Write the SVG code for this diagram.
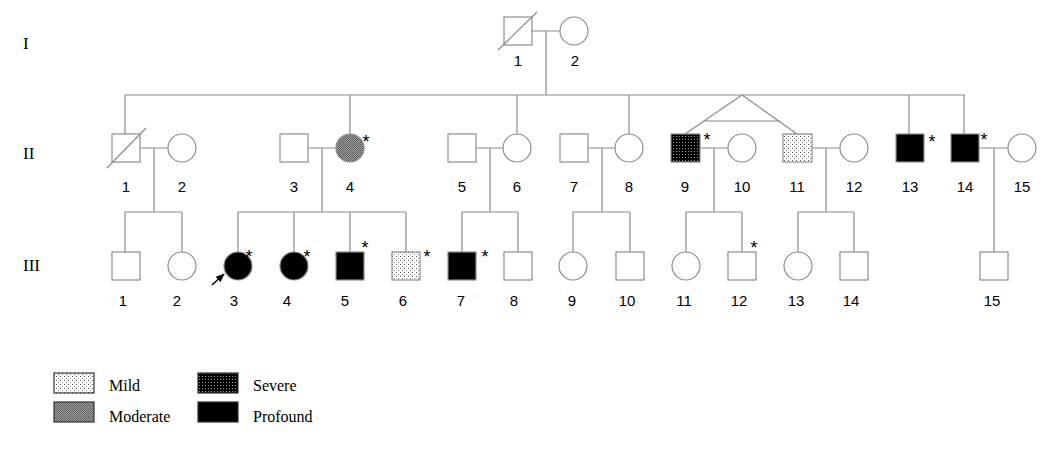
<svg xmlns="http://www.w3.org/2000/svg" width="1050" height="457" viewBox="0 0 1050 457">
<defs>
<pattern id="pMild" width="4" height="4" patternUnits="userSpaceOnUse">
<rect width="4" height="4" fill="#fff"/><rect x="0" y="0" width="1" height="1" fill="#555"/><rect x="2" y="2" width="1" height="1" fill="#888"/>
</pattern>
<pattern id="pMod" width="2" height="2" patternUnits="userSpaceOnUse">
<rect width="2" height="2" fill="#9a9a9a"/><rect x="0" y="0" width="1" height="1" fill="#5a5a5a"/><rect x="1" y="1" width="1" height="1" fill="#6a6a6a"/>
</pattern>
<pattern id="pSev" width="3" height="3" patternUnits="userSpaceOnUse">
<rect width="3" height="3" fill="#000"/><rect x="1" y="1" width="1" height="1" fill="#999"/>
</pattern>
<marker id="arr" viewBox="0 0 10 10" refX="9" refY="5" markerWidth="6" markerHeight="6" orient="auto">
<path d="M0,1 L10,5 L0,9 z" fill="#000"/>
</marker>
</defs>
<style>
.ln{stroke:#8c8c8c;stroke-width:1.2;fill:none}
.sh{stroke:#8c8c8c;stroke-width:1.2;fill:#fff}
.lab{font-family:"Liberation Sans",Arial,sans-serif;font-size:15px;fill:#000;text-anchor:middle}
.ast{font-family:"Liberation Sans",Arial,sans-serif;font-size:18px;fill:#000;text-anchor:middle}
.gen{font-family:"Liberation Serif","Times New Roman",serif;font-size:17px;fill:#000}
.leg{font-family:"Liberation Serif","Times New Roman",serif;font-size:16px;fill:#000}
.mild{fill:url(#pMild)}
.mod{fill:url(#pMod)}
.sev{fill:url(#pSev)}
.pro{fill:#000}
</style>
<rect width="1050" height="457" fill="#fff"/>

<g id="generations">
<text class="gen" x="23" y="49">I</text>
<text class="gen" x="23" y="159">II</text>
<text class="gen" x="23" y="271">III</text>
</g>

<g id="connectors">
<path class="ln" d="M532,31 H560 M546,31 V95"/>
<path class="ln" d="M125,95 H965"/>
<path class="ln" d="M125,95 V134 M350,95 V134 M517,95 V134 M629,95 V134 M909,95 V134 M964,95 V134"/>
<path class="ln" d="M742,95 L685,134 M742,95 L797,134 M704,121 H780"/>
<path class="ln" d="M140,148 H168 M154,148 V212 M125,212 H182 M125,212 V252 M182,212 V252"/>
<path class="ln" d="M308,148 H336 M322,148 V212 M238,212 H406 M238,212 V252 M294,212 V252 M350,212 V252 M406,212 V252"/>
<path class="ln" d="M476,148 H503 M490,148 V212 M462,212 H518 M462,212 V252 M518,212 V252"/>
<path class="ln" d="M588,148 H615 M602,148 V212 M573,212 H630 M573,212 V252 M630,212 V252"/>
<path class="ln" d="M700,148 H728 M714,148 V212 M686,212 H742 M686,212 V252 M742,212 V252"/>
<path class="ln" d="M812,148 H840 M826,148 V212 M798,212 H854 M798,212 V252 M854,212 V252"/>
<path class="ln" d="M979,148 H1008 M994,148 V252"/>
<line x1="212" y1="285" x2="224" y2="274" stroke="#000" stroke-width="1.5" marker-end="url(#arr)"/>
</g>

<g id="I-1"><rect class="sh" x="504" y="17" width="28" height="28"/><line class="ln" x1="498" y1="50" x2="537" y2="12"/><text class="lab" x="518" y="66">1</text></g>
<g id="I-2"><circle class="sh" cx="574" cy="31" r="14"/><text class="lab" x="575" y="66">2</text></g>

<g id="II-1"><rect class="sh" x="112" y="134" width="28" height="28"/><line class="ln" x1="107" y1="168" x2="146" y2="128"/><text class="lab" x="126" y="192">1</text></g>
<g id="II-2"><circle class="sh" cx="182" cy="148" r="14"/><text class="lab" x="182" y="192">2</text></g>
<g id="II-3"><rect class="sh" x="280" y="134" width="28" height="28"/><text class="lab" x="294" y="192">3</text></g>
<g id="II-4"><circle class="sh mod" cx="350" cy="148" r="14"/><text class="ast" x="366" y="148">*</text><text class="lab" x="350" y="192">4</text></g>
<g id="II-5"><rect class="sh" x="448" y="134" width="28" height="28"/><text class="lab" x="462" y="192">5</text></g>
<g id="II-6"><circle class="sh" cx="517" cy="148" r="14"/><text class="lab" x="517" y="192">6</text></g>
<g id="II-7"><rect class="sh" x="560" y="134" width="28" height="28"/><text class="lab" x="574" y="192">7</text></g>
<g id="II-8"><circle class="sh" cx="629" cy="148" r="14"/><text class="lab" x="629" y="192">8</text></g>
<g id="II-9"><rect class="sh sev" x="671" y="134" width="29" height="28"/><text class="ast" x="707" y="146">*</text><text class="lab" x="685" y="192">9</text></g>
<g id="II-10"><circle class="sh" cx="742" cy="148" r="14"/><text class="lab" x="742" y="192">10</text></g>
<g id="II-11"><rect class="sh mild" x="783" y="134" width="29" height="28"/><text class="lab" x="797" y="192">11</text></g>
<g id="II-12"><circle class="sh" cx="854" cy="148" r="14"/><text class="lab" x="854" y="192">12</text></g>
<g id="II-13"><rect class="sh pro" x="896" y="134" width="28" height="28"/><text class="ast" x="932" y="148">*</text><text class="lab" x="910" y="192">13</text></g>
<g id="II-14"><rect class="sh pro" x="951" y="134" width="28" height="28"/><text class="ast" x="984" y="146">*</text><text class="lab" x="965" y="192">14</text></g>
<g id="II-15"><circle class="sh" cx="1022" cy="148" r="14"/><text class="lab" x="1022" y="192">15</text></g>

<g id="III-1"><rect class="sh" x="112" y="252" width="28" height="28"/><text class="lab" x="123" y="306">1</text></g>
<g id="III-2"><circle class="sh" cx="182" cy="266" r="14"/><text class="lab" x="177" y="306">2</text></g>
<g id="III-3"><circle class="sh pro" cx="238" cy="266" r="14"/><text class="ast" x="249" y="263">*</text><text class="lab" x="234" y="306">3</text></g>
<g id="III-4"><circle class="sh pro" cx="294" cy="266" r="14"/><text class="ast" x="307" y="263">*</text><text class="lab" x="287" y="306">4</text></g>
<g id="III-5"><rect class="sh pro" x="336" y="252" width="28" height="28"/><text class="ast" x="365" y="254">*</text><text class="lab" x="345" y="306">5</text></g>
<g id="III-6"><rect class="sh mild" x="392" y="252" width="28" height="28"/><text class="ast" x="427" y="263">*</text><text class="lab" x="403" y="306">6</text></g>
<g id="III-7"><rect class="sh pro" x="448" y="252" width="28" height="28"/><text class="ast" x="485" y="263">*</text><text class="lab" x="461" y="306">7</text></g>
<g id="III-8"><rect class="sh" x="504" y="252" width="28" height="28"/><text class="lab" x="514" y="306">8</text></g>
<g id="III-9"><circle class="sh" cx="573" cy="266" r="14"/><text class="lab" x="572" y="306">9</text></g>
<g id="III-10"><rect class="sh" x="616" y="252" width="28" height="28"/><text class="lab" x="627" y="306">10</text></g>
<g id="III-11"><circle class="sh" cx="686" cy="266" r="14"/><text class="lab" x="684" y="306">11</text></g>
<g id="III-12"><rect class="sh" x="728" y="252" width="28" height="28"/><text class="ast" x="754" y="254">*</text><text class="lab" x="739" y="306">12</text></g>
<g id="III-13"><circle class="sh" cx="798" cy="266" r="14"/><text class="lab" x="796" y="306">13</text></g>
<g id="III-14"><rect class="sh" x="840" y="252" width="28" height="28"/><text class="lab" x="851" y="306">14</text></g>
<g id="III-15"><rect class="sh" x="980" y="252" width="28" height="28"/><text class="lab" x="992" y="306">15</text></g>

<g id="legend">
<rect x="54" y="373" width="40" height="20" class="mild" stroke="#333" stroke-width="1.2"/>
<text class="leg" x="109" y="391">Mild</text>
<rect x="54" y="402" width="40" height="20" class="mod" stroke="#333" stroke-width="1.2"/>
<text class="leg" x="109" y="422">Moderate</text>
<rect x="198" y="373" width="40" height="20" class="sev" stroke="#333" stroke-width="1.2"/>
<text class="leg" x="253" y="391">Severe</text>
<rect x="198" y="402" width="40" height="20" class="pro" stroke="#333" stroke-width="1.2"/>
<text class="leg" x="253" y="422">Profound</text>
</g>
</svg>
